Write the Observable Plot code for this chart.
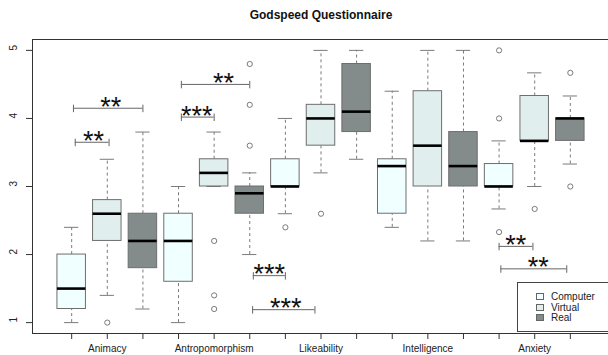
<!DOCTYPE html>
<html>
<head>
<meta charset="utf-8">
<script src="https://cdn.jsdelivr.net/npm/d3@7"></script>
<script src="https://cdn.jsdelivr.net/npm/@observablehq/plot@0.6"></script>
<style>
  html, body { margin: 0; padding: 0; background: #fff; }
  #wrap { position: relative; width: 608px; height: 355px; overflow: hidden; font-family: "Liberation Sans", Arial, sans-serif; }
  #legend { position: absolute; left: 517px; top: 282px; width: 100px; height: 50px; border: 1px solid #444; background: #fff; box-sizing: border-box; }
  .row { position: absolute; left: 0; height: 11px; font-size: 10px; line-height: 11px; color: #222; }
  .sw { position: absolute; left: 18px; top: 2px; width: 8px; height: 7px; border: 1px solid #666; box-sizing: border-box; }
  .lb { position: absolute; left: 33px; top: 0; white-space: nowrap; }
</style>
</head>
<body>
<div id="wrap"><div id="chart"></div><div id="legend"></div></div>
<script>
const categories = ["Animacy", "Antropomorphism", "Likeability", "Intelligence", "Anxiety"];
const conditions = ["Computer", "Virtual", "Real"];
const conditionColors = ["#F0FFFF", "#E0EEEE", "#838B8B"];

// box statistics, in order group x condition
const whiskerLow  = [1.0, 1.4, 1.2,  1.0, 3.0, 2.0,  2.6, 3.2, 3.4,  2.4, 2.2, 2.2,  2.67, 3.0, 3.33];
const q1          = [1.2, 2.2, 1.8,  1.6, 3.0, 2.6,  3.0, 3.6, 3.8,  2.6, 3.0, 3.0,  3.0, 3.67, 3.67];
const medians     = [1.5, 2.6, 2.2,  2.2, 3.2, 2.9,  3.0, 4.0, 4.1,  3.3, 3.6, 3.3,  3.0, 3.67, 4.0];
const q3          = [2.0, 2.8, 2.6,  2.6, 3.4, 3.0,  3.4, 4.2, 4.8,  3.4, 4.4, 3.8,  3.33, 4.33, 4.0];
const whiskerHigh = [2.4, 3.4, 3.8,  3.0, 3.8, 3.2,  4.0, 5.0, 5.0,  4.4, 5.0, 5.0,  3.67, 4.67, 4.33];
const outliers = [[], [1.0], [], [], [2.2, 1.4, 1.2], [3.6, 4.2, 4.8], [2.4], [2.6], [], [], [], [], [5.0, 4.0, 2.33], [2.67], [4.67, 3.0]];

// significance annotations
const sigFrom  = [1.1, 1.05, 4.08, 4.08, 6.1, 6.08, 13.0, 13.05];
const sigTo    = [2.05, 3.0, 5.0, 6.0, 7.0, 7.83, 13.95, 14.9];
const sigLevel = [3.65, 4.15, 4.02, 4.5, 1.69, 1.19, 2.12, 1.79];
const sigLabel = ["**", "**", "***", "**", "***", "***", "**", "**"];
const sigTextX = [1.61, 2.1, 4.51, 5.26, 6.55, 7.01, 13.47, 14.1];

const yTicks = [1, 2, 3, 4, 5];
const title = "Godspeed Questionnaire";

const boxes = whiskerLow.map((lo, i) => ({
  pos: i + 1,
  group: categories[Math.floor(i / 3)],
  cond: conditions[i % 3],
  lo, q1: q1[i], med: medians[i], q3: q3[i], hi: whiskerHigh[i]
}));
const outPts = outliers.flatMap((arr, i) => arr.map(v => ({pos: i + 1, v})));
const sigs = sigFrom.map((a, i) => ({a, b: sigTo[i], y: sigLevel[i], label: sigLabel[i], tx: sigTextX[i]}));
const sigEnds = sigs.flatMap(s => [{x: s.a, y: s.y}, {x: s.b, y: s.y}]);
const labelData = categories.map((c, g) => ({c, pos: g * 3 + 2}));

const gray = "#7a7a7a";
const chart = Plot.plot({
  width: 608, height: 355,
  marginLeft: 32, marginRight: 0, marginTop: 39, marginBottom: 22,
  style: {fontFamily: "'Liberation Sans', Arial, sans-serif", background: "#fff", overflow: "visible"},
  x: {domain: [-0.1, 16.1], range: [32, 609]},
  y: {domain: [0.84, 5.16]},
  color: {domain: conditions, range: conditionColors},
  marks: [
    // whiskers
    Plot.ruleX(boxes, {x: "pos", y1: "q3", y2: "hi", stroke: gray, strokeDasharray: "3,3", strokeWidth: 1}),
    Plot.ruleX(boxes, {x: "pos", y1: "lo", y2: "q1", stroke: gray, strokeDasharray: "3,3", strokeWidth: 1}),
    Plot.ruleY(boxes, {y: "hi", x1: d => d.pos - 0.2, x2: d => d.pos + 0.2, stroke: gray}),
    Plot.ruleY(boxes, {y: "lo", x1: d => d.pos - 0.2, x2: d => d.pos + 0.2, stroke: gray}),
    // boxes
    Plot.rect(boxes, {x1: d => d.pos - 0.4, x2: d => d.pos + 0.4, y1: "q1", y2: "q3", fill: "cond", stroke: "#6e6e6e", strokeWidth: 1}),
    Plot.ruleY(boxes, {y: "med", x1: d => d.pos - 0.4, x2: d => d.pos + 0.4, stroke: "#000", strokeWidth: 2.6}),
    // outliers
    Plot.dot(outPts, {x: "pos", y: "v", r: 2.6, stroke: gray, fill: "none", strokeWidth: 1}),
    // significance brackets
    Plot.ruleY(sigs, {y: "y", x1: "a", x2: "b", stroke: "#666", strokeWidth: 1}),
    Plot.ruleX(sigEnds, {x: "x", y1: d => d.y - 0.065, y2: d => d.y + 0.045, stroke: "#666", strokeWidth: 1}),
    Plot.text(sigs, {x: "tx", y: "y", text: "label", fontSize: 27, lineAnchor: "middle", dy: -1, fill: "#111"}),
    // frame (right edge falls outside the picture)
    Plot.ruleY([0.84, 5.16], {x1: -0.1, x2: 16.1, stroke: "#333"}),
    Plot.ruleX([-0.1], {y1: 0.84, y2: 5.16, stroke: "#333"}),
    // axes
    Plot.axisY({ticks: yTicks, tickSize: 6, tickFormat: () => "", label: null, stroke: "#333"}),
    Plot.text(yTicks, {y: d => d, frameAnchor: "left", dx: -19, rotate: -90, text: d => String(d), fontSize: 10, lineAnchor: "middle", fill: "#222"}),
    Plot.axisX({ticks: d3.range(1, 16), tickSize: 6, tickFormat: () => "", label: null, stroke: "#333"}),
    Plot.text(labelData, {x: "pos", frameAnchor: "bottom", text: "c", lineAnchor: "top", dy: 11, fontSize: 10, fill: "#222"}),
    // title
    Plot.text([title], {frameAnchor: "top", x: 8, text: d => d, dy: -24, fontSize: 12, fontWeight: "bold", lineAnchor: "middle", fill: "#111"})
  ]
});
document.getElementById("chart").appendChild(chart);

const legend = document.getElementById("legend");
conditions.forEach((c, i) => {
  const row = document.createElement("div");
  row.className = "row";
  row.style.top = (8 + i * 10.5) + "px";
  row.innerHTML = `<span class="sw" style="background:${conditionColors[i]}"></span><span class="lb">${c}</span>`;
  legend.appendChild(row);
});
</script>
</body>
</html>
